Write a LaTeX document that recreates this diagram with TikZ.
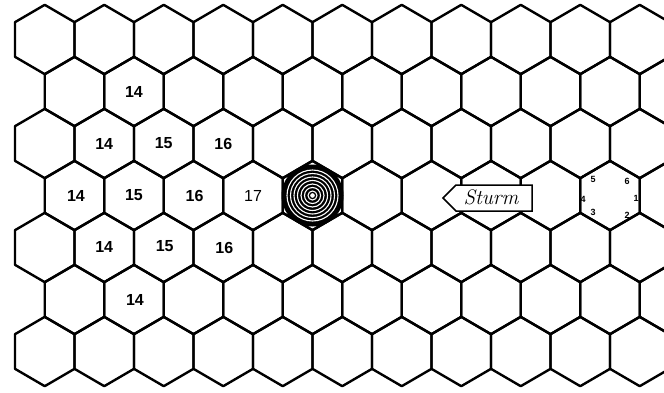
\documentclass[tikz,border=0pt]{standalone}
\usepackage{fontspec}
\setmainfont{Liberation Sans}
\newfontfamily\tagfont{Latin Modern Roman}
\tikzset{
  hexline/.style={line width=2.4pt, line join=round, draw=black},
  num/.style={font=\bfseries\fontsize{16}{16}\selectfont, inner sep=0pt},
  die/.style={font=\bfseries\fontsize{9}{9}\selectfont, inner sep=0pt},
  tagbox/.style={line width=1.5pt, fill=white, line join=miter},
}
\begin{document}
\begin{tikzpicture}[x=1pt,y=-1pt]
\useasboundingbox (0,0) rectangle (664,392);
\fill[white] (0,0) rectangle (664,392);
\begin{scope}
\clip (0,0) rectangle (664,392);
% odd rows (1,3,5,7)
\foreach \i in {0,2,4,6}{
  \foreach \k in {0,...,10}{
    \pgfmathsetmacro{\cx}{44.75+59.5*\k}
    \pgfmathsetmacro{\cy}{39.5+52*\i}
    \draw[hexline] (\cx,\cy) ++(-29.75,-17.33) -- ++(29.75,-17.34) -- ++(29.75,17.34) -- ++(0,34.66) -- ++(-29.75,17.34) -- ++(-29.75,-17.34) -- cycle;
  }
}
% even rows (2,4,6)
\foreach \i in {1,3,5}{
  \foreach \k in {0,...,10}{
    \pgfmathsetmacro{\cx}{74.5+59.5*\k}
    \pgfmathsetmacro{\cy}{39.5+52*\i}
    \draw[hexline] (\cx,\cy) ++(-29.75,-17.33) -- ++(29.75,-17.34) -- ++(29.75,17.34) -- ++(0,34.66) -- ++(-29.75,17.34) -- ++(-29.75,-17.34) -- cycle;
  }
}
\end{scope}
% numbers
\node[num] (r2a) at (134,92) {14};
\node[num] (r3a) at (104.25,143.5) {14};
\node[num] (r3b) at (163.75,143.5) {15};
\node[num] (r3c) at (223.25,143.5) {16};
\node[num] (r4a) at (76,195.5) {14};
\node[num] (r4b) at (134,195.5) {15};
\node[num] (r4c) at (194.5,195.5) {16};
\node[num, font=\fontsize{16}{16}\selectfont] (r4d) at (253,195.5) {17};
\node[num] (r5a) at (104.25,246.5) {14};
\node[num] (r5b) at (164.75,246.5) {15};
\node[num] (r5c) at (224.25,247.5) {16};
\node[num] (r6a) at (135,299.5) {14};
% bullseye
\coordinate (eye) at (312.5,195.5);
\fill[black] (eye) circle[radius=31];
\foreach \r in {4.5,8,11.5,15,18.5,22,25.5}{
  \draw[white, line width=1.1pt] (eye) circle[radius=\r];
}
\fill[white] (eye) circle[radius=2.3];
% Sturm tag
\draw[tagbox] (443,198) -- (456,185) -- (532,185) -- (532,211) -- (456,211) -- cycle;
\node[inner sep=0pt, font=\tagfont\itshape\fontsize{21}{21}\selectfont] (sturm) at (491,197) {Sturm};
% die numbering
\node[die] (d5) at (593,179) {5};
\node[die] (d6) at (627,181) {6};
\node[die] (d1) at (636,198) {1};
\node[die] (d2) at (627,215) {2};
\node[die] (d3) at (593,212) {3};
\node[die] (d4) at (583,199) {4};
\end{tikzpicture}
\end{document}
